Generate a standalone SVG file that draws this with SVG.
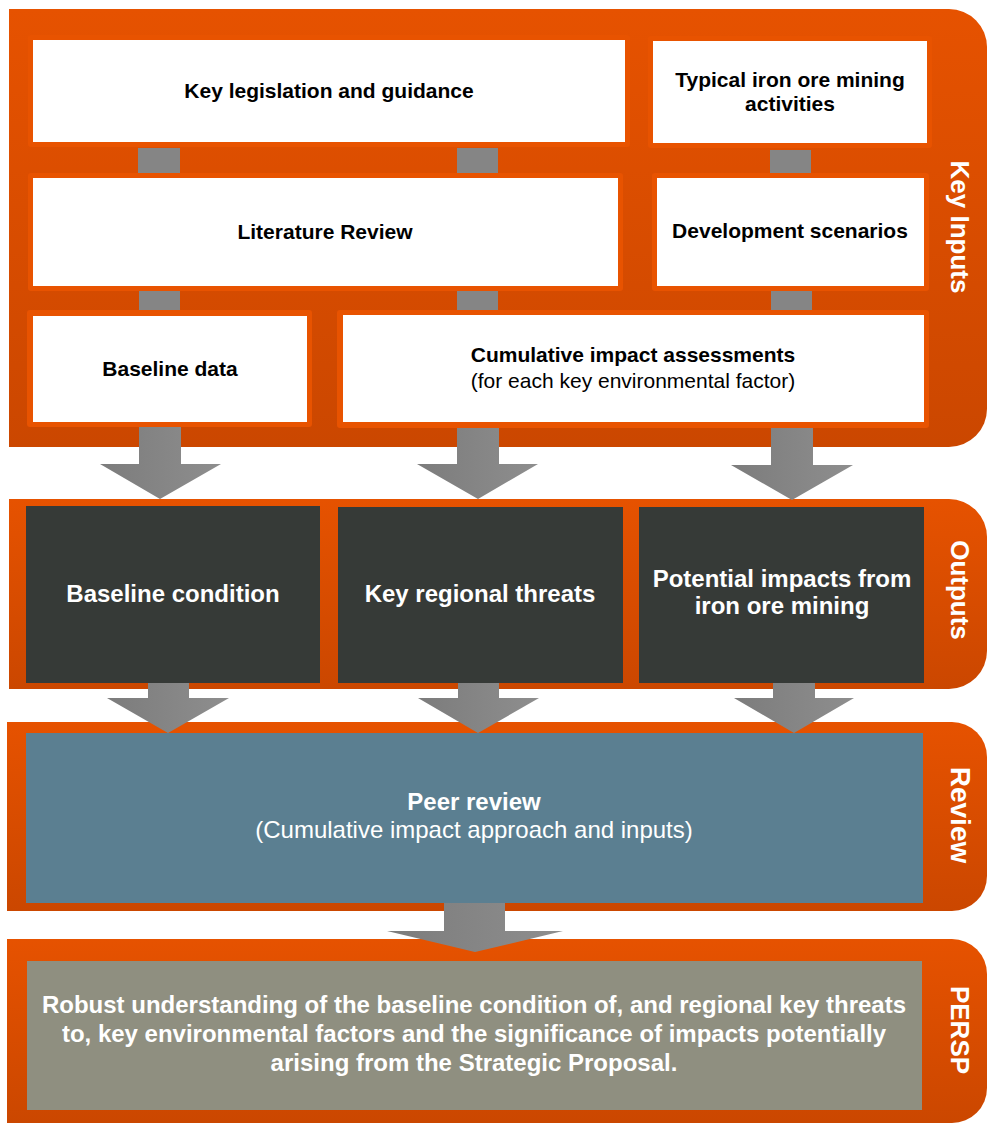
<svg xmlns="http://www.w3.org/2000/svg" width="987" height="1124" viewBox="0 0 987 1124">
  <defs>
    <linearGradient id="panelFill" x1="0" y1="0" x2="0" y2="1">
      <stop offset="0" stop-color="#E65200"/>
      <stop offset="1" stop-color="#CB4700"/>
    </linearGradient>
    <linearGradient id="arrowFill" x1="0" y1="0" x2="1" y2="0">
      <stop offset="0" stop-color="#7C7C7C"/>
      <stop offset="1" stop-color="#8E8E8E"/>
    </linearGradient>
    <style>
      text { font-family: "Liberation Sans", Arial, sans-serif; text-anchor: middle; }
      .panel { fill: url(#panelFill); }
      .frame { fill: #E85300; }
      .card { fill: #FFFFFF; }
      .dark { fill: #363A37; }
      .blue { fill: #5B7F91; }
      .stone { fill: #8F8F80; }
      .link { fill: #858585; }
      .arrow { fill: url(#arrowFill); }
      .lbl { font-size: 21px; font-weight: bold; fill: #000; }
      .sub { font-size: 21px; fill: #000; }
      .out { font-size: 24px; font-weight: bold; fill: #FFF; }
      .rev { font-size: 24px; fill: #FFF; }
      .side { font-size: 26px; font-weight: bold; fill: #FFF; }
    </style>
  </defs>

  <!-- stage panels -->
  <g id="panels">
    <path class="panel" d="M9,9 H949 A38,38 0 0 1 987,47 V409 A38,38 0 0 1 949,447 H9 Z"/>
    <path class="panel" d="M9,499 H949 A38,38 0 0 1 987,537 V651 A38,38 0 0 1 949,689 H9 Z"/>
    <path class="panel" d="M7,722 H952 A35,35 0 0 1 987,757 V876 A35,35 0 0 1 952,911 H7 Z"/>
    <path class="panel" d="M7,939 H952 A35,35 0 0 1 987,974 V1088 A35,35 0 0 1 952,1123 H7 Z"/>
  </g>

  <!-- stage labels -->
  <g id="stage-labels">
    <text class="side" transform="translate(951,227) rotate(90)">Key Inputs</text>
    <text class="side" transform="translate(951,590) rotate(90)">Outputs</text>
    <text class="side" style="font-size:28px" transform="translate(951,815) rotate(90)">Review</text>
    <text class="side" transform="translate(951,1030) rotate(90)">PERSP</text>
  </g>

  <!-- connectors -->
  <g id="connectors">
    <rect class="link" x="138" y="148" width="42" height="25"/>
    <rect class="link" x="457" y="148" width="41" height="25"/>
    <rect class="link" x="770" y="150" width="41" height="23"/>
    <rect class="link" x="139" y="291" width="41" height="19"/>
    <rect class="link" x="457" y="291" width="41" height="19"/>
    <rect class="link" x="771" y="291" width="41" height="19"/>

    <polygon class="arrow" points="139,427 181,427 181,464 221,464 160,499 100,464 139,464"/>
    <polygon class="arrow" points="457,427 499,427 499,464 538,464 478,499 417,464 457,464"/>
    <polygon class="arrow" points="771,427 813,427 813,465 853,465 792,500 731,465 771,465"/>

    <polygon class="arrow" points="148,683 189,683 189,698 229,698 168,733 107,698 148,698"/>
    <polygon class="arrow" points="458,683 499,683 499,698 539,698 478,733 418,698 458,698"/>
    <polygon class="arrow" points="773,683 815,683 815,698 854,698 794,733 734,698 773,698"/>

    <polygon class="arrow" points="444,903 505,903 505,931 563,931 475,952 387,931 444,931"/>
  </g>

  <!-- key inputs -->
  <g id="key-legislation">
    <rect class="frame" x="28" y="35" width="602" height="112" rx="3"/>
    <rect class="card" x="33" y="40" width="592" height="102"/>
    <text class="lbl" x="329" y="98">Key legislation and guidance</text>
  </g>
  <g id="typical-activities">
    <rect class="frame" x="648" y="36" width="284" height="112" rx="3"/>
    <rect class="card" x="653" y="41" width="274" height="102"/>
    <text class="lbl" x="790" y="87">Typical iron ore mining</text>
    <text class="lbl" x="790" y="111">activities</text>
  </g>
  <g id="literature-review">
    <rect class="frame" x="28" y="173" width="595" height="118" rx="3"/>
    <rect class="card" x="33" y="178" width="585" height="108"/>
    <text class="lbl" x="325" y="239">Literature Review</text>
  </g>
  <g id="development-scenarios">
    <rect class="frame" x="652" y="173" width="277" height="118" rx="3"/>
    <rect class="card" x="657" y="178" width="267" height="108"/>
    <text class="lbl" x="790" y="238">Development scenarios</text>
  </g>
  <g id="baseline-data">
    <rect class="frame" x="27" y="310" width="285" height="117" rx="3"/>
    <rect class="card" x="33" y="316" width="274" height="106"/>
    <text class="lbl" x="170" y="376">Baseline data</text>
  </g>
  <g id="cumulative-assessments">
    <rect class="frame" x="337" y="310" width="592" height="118" rx="3"/>
    <rect class="card" x="343" y="315" width="581" height="107"/>
    <text class="lbl" x="633" y="362">Cumulative impact assessments</text>
    <text class="sub" x="633" y="388">(for each key environmental factor)</text>
  </g>

  <!-- outputs -->
  <g id="baseline-condition">
    <rect class="dark" x="26" y="506" width="294" height="177"/>
    <text class="out" x="173" y="602">Baseline condition</text>
  </g>
  <g id="regional-threats">
    <rect class="dark" x="338" y="507" width="285" height="176"/>
    <text class="out" x="480" y="602">Key regional threats</text>
  </g>
  <g id="potential-impacts">
    <rect class="dark" x="639" y="507" width="285" height="176"/>
    <text class="out" x="782" y="587">Potential impacts from</text>
    <text class="out" x="782" y="614">iron ore mining</text>
  </g>

  <!-- review -->
  <g id="peer-review">
    <rect class="blue" x="26" y="733" width="897" height="170"/>
    <text class="out" x="474" y="810">Peer review</text>
    <text class="rev" x="474" y="838">(Cumulative impact approach and inputs)</text>
  </g>

  <!-- outcome -->
  <g id="persp-outcome">
    <rect class="stone" x="27" y="961" width="895" height="149"/>
    <text class="out" x="474" y="1013">Robust understanding of the baseline condition of, and regional key threats</text>
    <text class="out" x="474" y="1042">to, key environmental factors and the significance of impacts potentially</text>
    <text class="out" x="474" y="1071">arising from the Strategic Proposal.</text>
  </g>
</svg>
